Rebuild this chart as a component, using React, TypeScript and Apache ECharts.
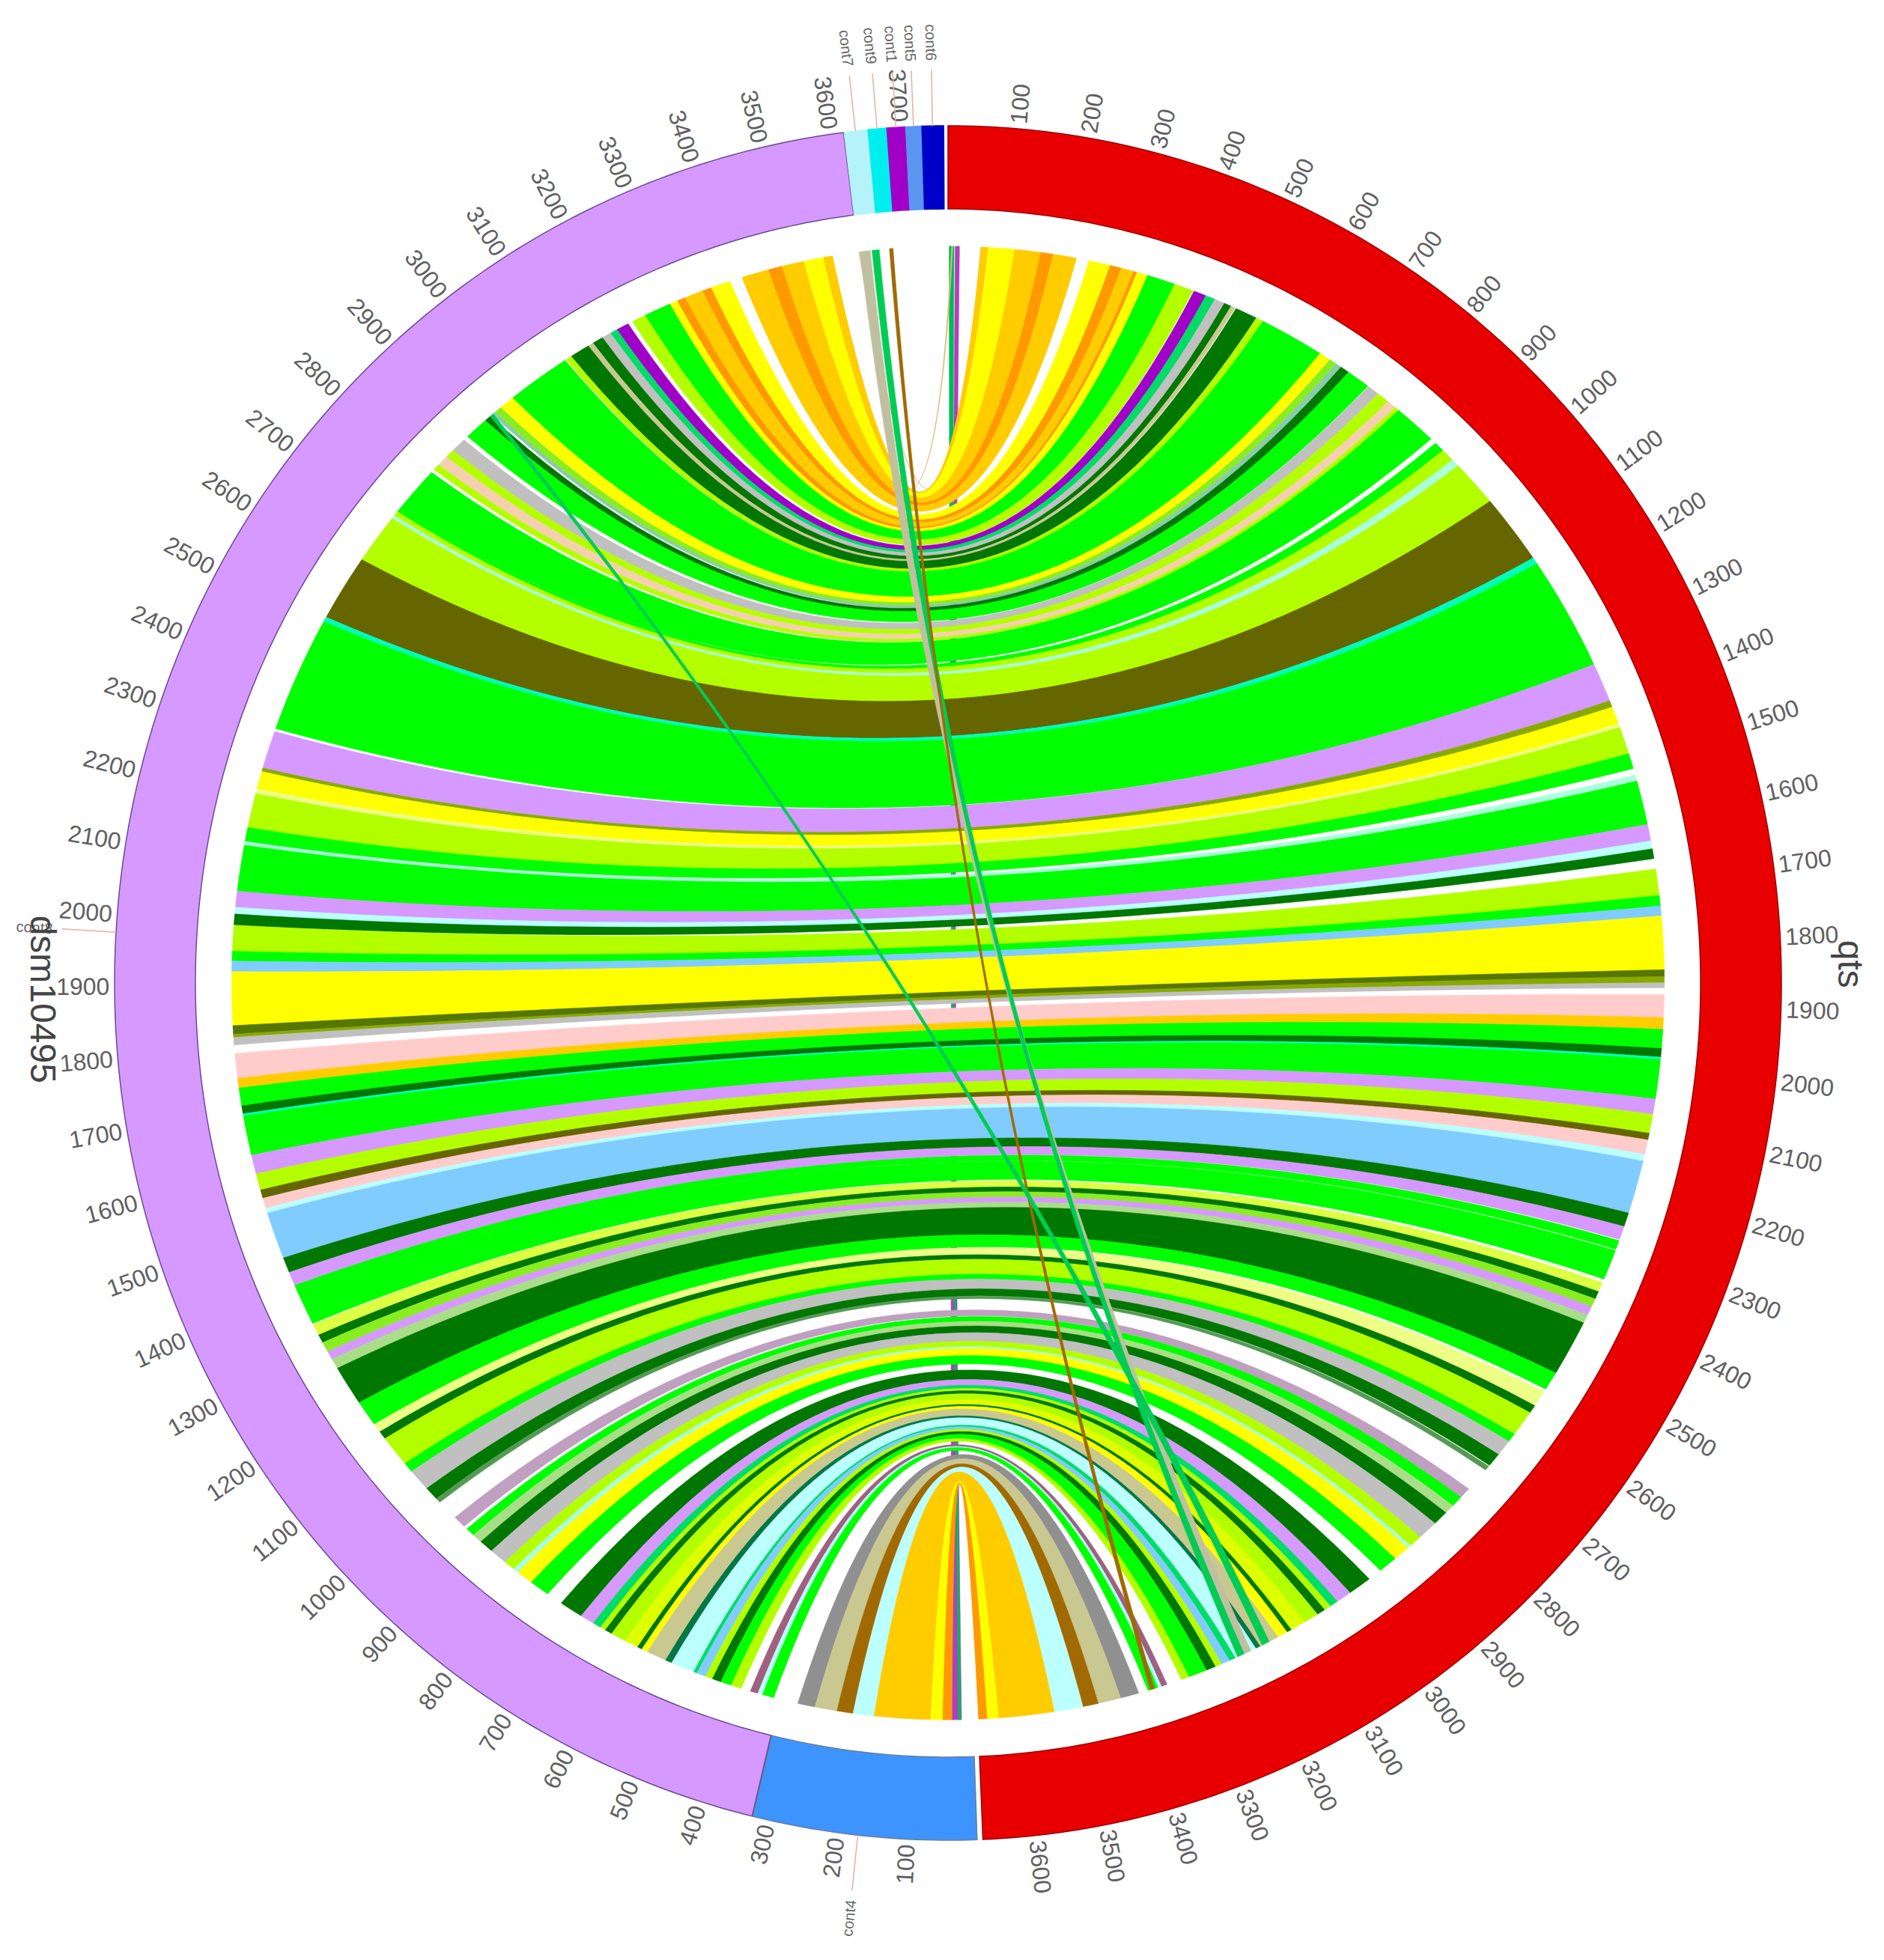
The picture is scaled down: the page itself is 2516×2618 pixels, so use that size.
import React, { useEffect, useRef } from "react";
import * as echarts from "echarts";

const palette: Record<string, string> = {
  gold: "#ffcc00", yellow: "#ffff00", orange: "#ff9900", green: "#00ff00", yg: "#b3ff00",
  dk: "#007700", purple: "#d699ff", olive: "#666600", gray: "#c0c0c0", pink: "#ffcccc",
  blue: "#80ccff", cyan: "#bbffff", violet: "#a000c8", tan: "#c8c890", brown: "#a06a00",
  teal: "#00dd66", mid: "#909090", pale: "#eeff88", peach: "#f5d0b0", lime: "#88ee22",
  tealgray: "#88ccaa", mint: "#aaffdd", aqua: "#00ffbb", ol2: "#557700", ol3: "#88aa00",
  maroon: "#a06080", magenta: "#b040c0", thin: "#559955", tanp: "#bfa0c0", tang: "#aadd88",
  yel2: "#ddff00", paley: "#ddff44", dkteal: "#007744", line: "#00bb55", cross: "#00cc55", crossgray: "#c0c0a0",
  tanline: "#e0b878", tanline2: "#e0c8a0",
};

// [colour, qts from, qts to, dsm10495 from, dsm10495 to]
type Link = [string, number, number, number, number];

const underLinks: Link[] = [
  ["magenta", 12, 19, 35, 19],
  ["line", 2, 10, 24, 20],
  ["tanline", 6, 8, 3566, 3562],
  ["tanline2", 54, 55, 3622, 3620],
];
const topLinks: Link[] = [
  ["gold", 55, 67, 3576, 3560], ["yellow", 67, 111, 3560, 3527], ["gold", 111, 154, 3527, 3490],
  ["orange", 154, 175, 3490, 3467], ["gold", 175, 214, 3467, 3422], ["yellow", 235, 271, 3401, 3368],
  ["orange", 271, 290, 3368, 3353], ["gold", 290, 311, 3353, 3322], ["orange", 311, 317, 3322, 3308],
  ["yellow", 317, 335, 3308, 3295], ["green", 335, 382, 3295, 3250], ["yg", 382, 414, 3250, 3227],
  ["violet", 416, 437, 3219, 3198], ["teal", 437, 453, 3198, 3186], ["gray", 453, 470, 3186, 3171],
  ["dk", 470, 482, 3171, 3153], ["tan", 482, 489, 3153, 3144], ["dk", 491, 528, 3144, 3111],
  ["yg", 528, 540, 3111, 3101], ["green", 540, 648, 3099, 2993], ["yellow", 648, 667, 2993, 2968],
  ["lime", 667, 679, 2968, 2956], ["tealgray", 679, 689, 2956, 2950], ["dk", 689, 704, 2946, 2935],
  ["green", 704, 743, 2935, 2896], ["gray", 744, 764, 2888, 2863], ["yg", 764, 785, 2863, 2848],
  ["peach", 785, 800, 2848, 2830], ["yg", 800, 807, 2830, 2819], ["green", 807, 878, 2813, 2734],
];
const upperLinks: Link[] = [
  ["green", 888, 905, 2734, 2728], ["yg", 905, 927, 2728, 2720], ["mint", 927, 940, 2720, 2714],
  ["yg", 940, 1018, 2714, 2631], ["olive", 1018, 1134, 2631, 2521], ["aqua", 1134, 1145, 2521, 2513],
  ["green", 1145, 1333, 2513, 2323], ["purple", 1333, 1397, 2318, 2256], ["ol3", 1397, 1408, 2256, 2250],
  ["yellow", 1408, 1437, 2250, 2221], ["pale", 1437, 1443, 2221, 2213], ["yg", 1443, 1488, 2213, 2157],
  ["green", 1488, 1513, 2157, 2134], ["mint", 1524, 1534, 2134, 2128], ["green", 1534, 1606, 2128, 2053],
  ["purple", 1606, 1633, 2053, 2027], ["cyan", 1633, 1646, 2027, 2016], ["dk", 1646, 1662, 2016, 1998],
  ["yg", 1679, 1722, 1998, 1956], ["green", 1722, 1739, 1956, 1940], ["blue", 1739, 1755, 1940, 1923],
  ["yellow", 1755, 1842, 1923, 1836], ["ol2", 1842, 1853, 1836, 1822], ["ol3", 1853, 1863, 1822, 1817],
  ["gray", 1863, 1871, 1817, 1805],
];
const middleLinks: Link[] = [
  ["pink", 1882, 1919, 1791, 1751], ["gold", 1919, 1938, 1751, 1735], ["green", 1938, 1969, 1735, 1706],
  ["dk", 1969, 1983, 1706, 1693], ["aqua", 1983, 1987, 1693, 1689], ["green", 1987, 2051, 1689, 1625],
  ["purple", 2051, 2076, 1625, 1594], ["yg", 2076, 2107, 1594, 1567], ["olive", 2107, 2118, 1567, 1553],
  ["pink", 2118, 2142, 1553, 1536], ["cyan", 2142, 2153, 1536, 1528], ["blue", 2153, 2240, 1528, 1451],
  ["dk", 2240, 2263, 1451, 1426], ["purple", 2263, 2285, 1426, 1403], ["green", 2287, 2302, 1403, 1387],
  ["green", 2304, 2354, 1387, 1335], ["paley", 2360, 2376, 1333, 1314], ["dk", 2376, 2389, 1314, 1300],
  ["lime", 2389, 2403, 1300, 1283], ["purple", 2403, 2418, 1283, 1269], ["tang", 2418, 2432, 1269, 1252],
];
const lowerLinks: Link[] = [
  ["dk", 2432, 2525, 1252, 1186], ["green", 2525, 2556, 1186, 1143], ["pale", 2561, 2588, 1143, 1128],
  ["dk", 2588, 2602, 1128, 1114], ["yg", 2602, 2645, 1114, 1062], ["green", 2645, 2660, 1062, 1045],
  ["gray", 2660, 2687, 1045, 1008], ["dk", 2687, 2710, 1008, 985], ["thin", 2712, 2720, 985, 977],
  ["tanp", 2761, 2780, 942, 921], ["green", 2780, 2799, 915, 900], ["tang", 2799, 2815, 900, 884],
  ["dk", 2815, 2840, 884, 861], ["gray", 2840, 2873, 861, 832], ["yg", 2873, 2894, 832, 814],
  ["mint", 2894, 2900, 814, 805], ["yellow", 2900, 2927, 805, 778], ["green", 2927, 2958, 778, 745],
  ["dk", 2981, 3020, 718, 679], ["purple", 3020, 3045, 679, 656], ["teal", 3045, 3059, 656, 642],
  ["yg", 3059, 3070, 642, 633], ["dk", 3070, 3084, 633, 621], ["yg", 3084, 3109, 621, 596],
  ["yel2", 3109, 3134, 596, 573], ["dk", 3134, 3142, 573, 565], ["yellow", 3142, 3159, 565, 555],
  ["tan", 3159, 3192, 555, 522], ["dkteal", 3192, 3200, 522, 511],
];
const bottomLinks: Link[] = [
  ["cyan", 3200, 3237, 511, 472], ["teal", 3237, 3248, 472, 466], ["blue", 3248, 3262, 466, 451],
  ["yg", 3262, 3273, 451, 439], ["dk", 3273, 3289, 439, 424], ["green", 3289, 3320, 424, 406],
  ["yg", 3320, 3333, 406, 389], ["maroon", 3358, 3368, 373, 360], ["cyan", 3368, 3374, 360, 352],
  ["green", 3374, 3391, 352, 333], ["mid", 3407, 3438, 292, 263], ["tan", 3438, 3476, 263, 226],
  ["brown", 3476, 3502, 226, 199], ["cyan", 3502, 3550, 199, 164], ["gold", 3550, 3643, 164, 70],
  ["yellow", 3643, 3662, 70, 50], ["orange", 3662, 3676, 50, 35],
];
const crossLinks: Link[] = [
  ["crossgray", 3209, 3221, 3639, 3622],
  ["cross", 3221, 3233, 3654, 3642],
  ["brown", 3380, 3387, 3677, 3671],
  ["cross", 3175, 3188, 2952, 2946],
];

// ideogram segments
const segmentNames = ["qts", "cont4", "dsm10495", "cont7", "cont9", "cont1", "cont5", "cont6"];
const segmentKaryotype = ["q", "d", "d", "d", "d", "d", "d", "d"];
const segmentStart = [0, 0, 323, 3620, 3654, 3681, 3708, 3731];
const segmentEnd = [3677, 322, 3619, 3653, 3680, 3707, 3730, 3762];
const segmentFill = ["#e80000", "#3d94ff", "#d699ff", "#b5f3fa", "#00eeee", "#a000c8", "#5a96f0", "#0000c8"];
const segmentEdge = ["#9a0000", "#667f99", "#6a4a90", "#b5f3fa", "#00eeee", "#a000c8", "#5a96f0", "#0000c8"];

const qtsTicks = [100, 200, 300, 400, 500, 600, 700, 800, 900, 1000, 1100, 1200, 1300, 1400, 1500, 1600, 1700, 1800, 1900, 2000, 2100, 2200, 2300, 2400, 2500, 2600, 2700, 2800, 2900, 3000, 3100, 3200, 3300, 3400, 3500, 3600];
const dsmTicks = [100, 200, 300, 400, 500, 600, 700, 800, 900, 1000, 1100, 1200, 1300, 1400, 1500, 1600, 1700, 1800, 1900, 2000, 2100, 2200, 2300, 2400, 2500, 2600, 2700, 2800, 2900, 3000, 3100, 3200, 3300, 3400, 3500, 3600, 3700];

const contNames = ["cont7", "cont9", "cont1", "cont5", "cont6", "cont4", "cont8"];
const contPositions = [3636, 3667, 3694, 3719, 3746, 170, 1975];

const DEG_PER_UNIT = 0.0483;
const DSM_ORIGIN = 178;
const R_RING_OUT = 1;
const R_RING_IN = 0.903;
const R_LINK = 0.8595;
const FONT = "'Liberation Sans', Arial, sans-serif";

const qAngle = (u: number) => u * DEG_PER_UNIT;
const dAngle = (u: number) => DSM_ORIGIN + u * DEG_PER_UNIT;
const polar = (deg: number, r: number): [number, number] => {
  const a = (deg * Math.PI) / 180;
  return [r * Math.sin(a), r * Math.cos(a)];
};

function curve(a: number, b: number, pts: [number, number][], throughCentre: boolean) {
  const delta = ((b - a + 540) % 360) - 180;
  const mid = a + delta / 2;
  const rc = throughCentre ? 0 : 0.365 * R_LINK * (1 - Math.abs(delta) / 180);
  const p0 = polar(a, R_LINK);
  const p2 = polar(b, R_LINK);
  const c = polar(mid, rc);
  const n = 48;
  for (let i = 1; i < n; i++) {
    const t = i / n;
    const m = 1 - t;
    pts.push([
      m * m * p0[0] + 2 * m * t * c[0] + t * t * p2[0],
      m * m * p0[1] + 2 * m * t * c[1] + t * t * p2[1],
    ]);
  }
}

function arc(a: number, b: number, r: number, pts: [number, number][]) {
  const n = Math.max(1, Math.ceil(Math.abs(b - a) / 0.6));
  for (let i = 0; i <= n; i++) pts.push(polar(a + ((b - a) * i) / n, r));
}

const linkSeries = (links: Link[], z: number, throughCentre = false) => ({
  type: "custom",
  coordinateSystem: "cartesian2d",
  silent: true,
  z,
  data: links.map((l) => [l[1], l[2], l[3], l[4]]),
  renderItem: (params: any, api: any) => {
    const a1 = qAngle(api.value(0));
    const a2 = qAngle(api.value(1));
    const b1 = dAngle(api.value(2));
    const b2 = dAngle(api.value(3));
    const pts: [number, number][] = [];
    arc(a1, a2, R_LINK, pts);
    curve(a2, b2, pts, throughCentre);
    arc(b2, b1, R_LINK, pts);
    curve(b1, a1, pts, throughCentre);
    const color = palette[links[params.dataIndex][0]];
    return {
      type: "polygon",
      shape: { points: pts.map((p) => api.coord(p)) },
      style: { fill: color, stroke: color, lineWidth: 0.6 },
    };
  },
});

const ringSeries = {
  type: "custom",
  coordinateSystem: "cartesian2d",
  silent: true,
  z: 5,
  data: segmentNames.map((_, i) => [segmentStart[i], segmentEnd[i]]),
  renderItem: (params: any, api: any) => {
    const i = params.dataIndex;
    const f = segmentKaryotype[i] === "q" ? qAngle : dAngle;
    const a = f(api.value(0));
    const b = f(api.value(1));
    const pts: [number, number][] = [];
    arc(a, b, R_RING_OUT, pts);
    arc(b, a, R_RING_IN, pts);
    return {
      type: "polygon",
      shape: { points: pts.map((p) => api.coord(p)) },
      style: { fill: segmentFill[i], stroke: segmentEdge[i], lineWidth: 1.5 },
    };
  },
};

function radialText(api: any, deg: number, r: number, text: string, fontSize: number, fill: string) {
  const right = deg < 180;
  const [px, py] = api.coord(polar(deg, r));
  const rotDeg = right ? 90 - deg : 270 - deg;
  return {
    type: "text",
    x: px,
    y: py,
    rotation: (rotDeg * Math.PI) / 180,
    style: {
      text,
      fontSize,
      fontFamily: FONT,
      fill,
      align: right ? "left" : "right",
      verticalAlign: "middle",
    },
  };
}

const tickSeries = (ticks: number[], f: (u: number) => number) => ({
  type: "custom",
  coordinateSystem: "cartesian2d",
  silent: true,
  z: 6,
  data: ticks.map((t) => [t, 0]),
  renderItem: (_: any, api: any) => radialText(api, f(api.value(0)), 1.006, String(api.value(0)), 32, "#606060"),
});

const contSeries = {
  type: "custom",
  coordinateSystem: "cartesian2d",
  silent: true,
  z: 7,
  data: contPositions.map((u) => [u, 0]),
  renderItem: (params: any, api: any) => {
    const deg = dAngle(api.value(0));
    const from = api.coord(polar(deg, 1));
    const to = api.coord(polar(deg, 1.065));
    return {
      type: "group",
      children: [
        { type: "line", shape: { x1: from[0], y1: from[1], x2: to[0], y2: to[1] }, style: { stroke: "#e6b0a0", lineWidth: 1.5 } },
        radialText(api, deg, 1.076, contNames[params.dataIndex], 20, "#666666"),
      ],
    };
  },
};

const titleNames = ["qts", "dsm10495"];
const titleX = [1.083, -1.086];
const titleY = [0.022, -0.019];

const titleSeries = {
  type: "custom",
  coordinateSystem: "cartesian2d",
  silent: true,
  z: 8,
  data: titleNames.map((_, i) => [titleX[i], titleY[i]]),
  renderItem: (params: any, api: any) => {
    const [px, py] = api.coord([api.value(0), api.value(1)]);
    return {
      type: "text",
      x: px,
      y: py,
      rotation: -Math.PI / 2,
      style: {
        text: titleNames[params.dataIndex],
        fontSize: 48,
        fontFamily: FONT,
        fill: "#444444",
        align: "center",
        verticalAlign: "middle",
      },
    };
  },
};

export default function App() {
  const ref = useRef<HTMLDivElement>(null);
  useEffect(() => {
    const chart = echarts.init(ref.current!, undefined, { renderer: "svg" });
    chart.setOption({
      animation: false,
      backgroundColor: "#ffffff",
      grid: { left: 153, top: 168, width: 2226, height: 2290 },
      xAxis: { type: "value", min: -1, max: 1, show: false },
      yAxis: { type: "value", min: -1, max: 1, show: false },
      series: [
        linkSeries(underLinks, 1),
        linkSeries(topLinks, 2),
        linkSeries(upperLinks, 2),
        linkSeries(middleLinks, 2),
        linkSeries(lowerLinks, 2),
        linkSeries(bottomLinks, 2),
        linkSeries(crossLinks, 3, true),
        ringSeries,
        tickSeries(qtsTicks, qAngle),
        tickSeries(dsmTicks, dAngle),
        contSeries,
        titleSeries,
      ],
    });
    return () => chart.dispose();
  }, []);
  return <div ref={ref} style={{ position: "absolute", left: 0, top: 0, width: 2516, height: 2618 }} />;
}
